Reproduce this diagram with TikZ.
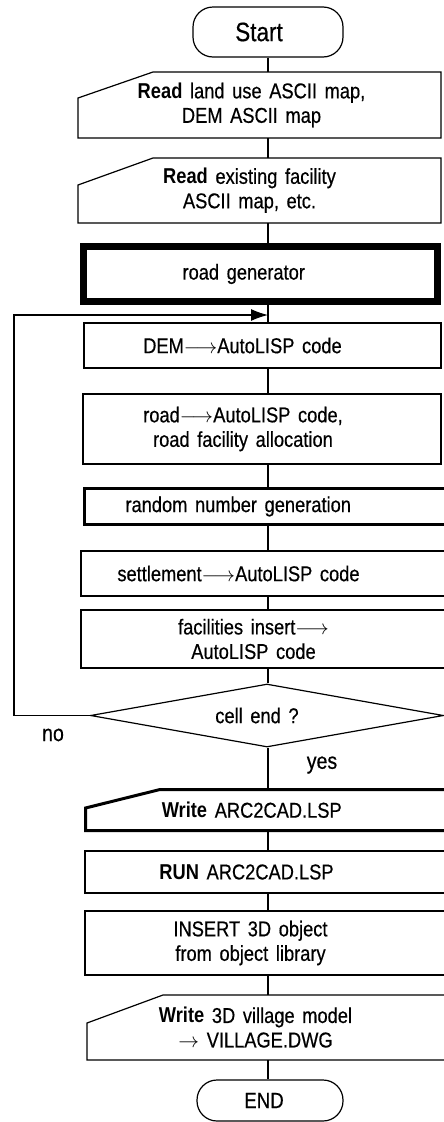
\documentclass[tikz,border=0pt]{standalone}
\usepackage{fontspec}
\setmainfont[FakeStretch=0.85,WordSpace=1.5,UprightFeatures={FakeBold=0.5}]{Liberation Sans}
\usetikzlibrary{shapes.geometric,arrows.meta}

\begin{document}
\begin{tikzpicture}[
  x=1pt, y=-1pt,
  line width=1.2pt,
  txt/.style={
    align=center,
    inner sep=0pt,
    font=\fontsize{21.5}{24.5}\selectfont
  },
  termbox/.style={
    rectangle,
    draw,
    rounded corners=20pt,
    inner sep=0pt
  },
  procbox/.style={
    rectangle,
    draw,
    inner sep=0pt
  },
  inbox/.style={
    rectangle,
    inner sep=0pt,
    outer sep=0pt
  },
  decbox/.style={
    diamond,
    draw,
    inner sep=0pt
  }]
  \useasboundingbox (0,0) rectangle (444,1122);
  \clip (0,0) rectangle (444,1122);

  \node[termbox,minimum width=150pt,minimum height=50pt,
    label={[txt,xshift=-9pt,font=\fontsize{26.5}{30}\selectfont]center:Start}] (start) at (268,32) {};
  \node[inbox,minimum width=363pt,minimum height=66pt,
    label={[txt,xshift=-8pt]center:{\textbf{Read} land use ASCII map,\\DEM ASCII map}}] (read1) at (259.5,105) {};
  \draw (read1.south west) -- (read1.south east) -- (read1.north east)
    -- ([xshift=75pt]read1.north west) -- ([yshift=-26pt]read1.north west) -- cycle;
  \node[inbox,minimum width=363pt,minimum height=65pt,
    label={[txt,xshift=-10pt]center:{\textbf{Read} existing facility\\ASCII map, etc.}}] (read2) at (259.5,190.5) {};
  \draw (read2.south west) -- (read2.south east) -- (read2.north east)
    -- ([xshift=75pt]read2.north west) -- ([yshift=-27pt]read2.north west) -- cycle;
  \node[procbox,line width=7pt,minimum width=354pt,minimum height=55pt,
    label={[txt,xshift=-17pt]center:road generator}] (roadgen) at (260.75,274) {};
  \node[procbox,minimum width=357pt,minimum height=45pt,
    label={[txt,xshift=-20pt]center:DEM$\longrightarrow$AutoLISP code}] (dem) at (262.5,345.5) {};
  \node[procbox,minimum width=358pt,minimum height=70pt,
    label={[txt,xshift=-19pt]center:{road$\longrightarrow$AutoLISP code,\\road facility allocation}}] (road) at (262,429) {};
  \node[procbox,line width=3pt,minimum width=375.5pt,minimum height=36pt,
    label={[txt,xshift=-34pt]center:random number generation}] (random) at (272.25,506.5) {};
  \node[procbox,minimum width=379pt,minimum height=45pt,
    label={[txt,xshift=-32pt]center:settlement$\longrightarrow$AutoLISP code}] (settle) at (270.5,573.5) {};
  \node[procbox,minimum width=379pt,minimum height=58pt,
    label={[txt,xshift=-17pt]center:{facilities insert$\longrightarrow$\\AutoLISP code}}] (facil) at (270.5,639) {};
  \node[decbox,minimum width=353pt,minimum height=63pt,
    label={[txt,xshift=-10pt]center:cell end ?}] (cellend) at (267,715.5) {};
  \node[inbox,minimum width=374.5pt,minimum height=41pt,
    label={[txt,xshift=-21pt]center:{\textbf{Write} ARC2CAD.LSP}}] (writearc) at (272.75,810) {};
  \draw[line width=3pt] (writearc.south west) -- (writearc.south east) -- (writearc.north east)
    -- ([xshift=74.5pt]writearc.north west) -- ([yshift=-18.5pt]writearc.north west) -- cycle;
  \node[procbox,minimum width=375pt,minimum height=42pt,
    label={[txt,xshift=-26pt]center:{\textbf{RUN} ARC2CAD.LSP}}] (run) at (272.5,872) {};
  \node[procbox,minimum width=375pt,minimum height=64pt,
    label={[txt,xshift=-22pt]center:{INSERT 3D object\\from object library}}] (insert) at (272.5,943) {};
  \node[inbox,minimum width=373pt,minimum height=65pt,
    label={[txt,xshift=-18pt]center:{\textbf{Write} 3D village model\\$\rightarrow$ VILLAGE.DWG}}] (write3d) at (273.5,1027.5) {};
  \draw (write3d.south west) -- (write3d.south east) -- (write3d.north east)
    -- ([xshift=76pt]write3d.north west) -- ([yshift=-28pt]write3d.north west) -- cycle;
  \node[termbox,minimum width=146pt,minimum height=41pt,
    label={[txt,xshift=-6pt,font=\fontsize{22}{25}\selectfont]center:END}] (stop) at (270,1100.5) {};

  % main line
  \foreach \a/\b in {start/read1,read1/read2,read2/roadgen,roadgen/dem,dem/road,
    road/random,random/settle,settle/facil,facil/cellend,cellend/writearc,
    writearc/run,run/insert,insert/write3d,write3d/stop}
    \draw (\a.south -| start.south) -- (\b.north -| start.south);

  % loop back
  \coordinate (loopin) at (268,315);
  \draw[-{Latex[length=17pt,width=12pt]}] (cellend.west) -- ++(-76,0) |- (loopin);
  \node[txt,font=\fontsize{23}{26}\selectfont] (no) at (53,735) {no};
  \node[txt,font=\fontsize{23}{26}\selectfont] (yes) at (322,765) {yes};
\end{tikzpicture}
\end{document}
